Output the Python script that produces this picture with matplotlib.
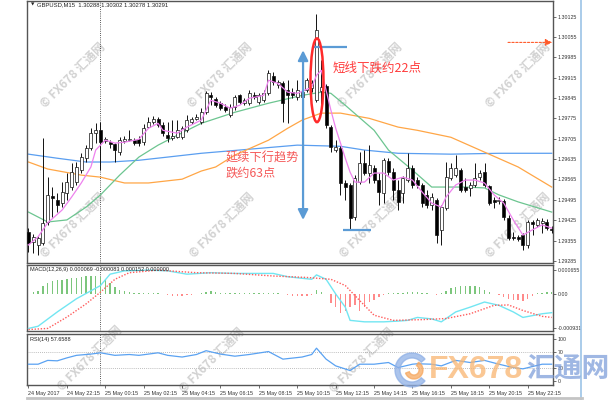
import numpy as np
import matplotlib
matplotlib.use("Agg")
import matplotlib.pyplot as plt
from matplotlib.patches import Ellipse, Wedge
from matplotlib.lines import Line2D

plt.rcParams['font.family'] = ['Liberation Sans', 'Noto Sans CJK SC', 'DejaVu Sans']

# ---------------- data ----------------
symbol_title = "GBPUSD,M15  1.30288 1.30302 1.30278 1.30291"
macd_title = "MACD(12,26,9) 0.000069 -0.000083 0.000152 0.000000"
rsi_title = "RSI(14) 57.6588"

time_tick_bars = [0, 8, 16, 24, 32, 40, 48, 56, 64, 72, 80, 88, 96, 104]
time_tick_labels = ["24 May 2017", "24 May 22:15", "25 May 00:15", "25 May 02:15",
                    "25 May 04:15", "25 May 06:15", "25 May 08:15", "25 May 10:15",
                    "25 May 12:15", "25 May 14:15", "25 May 16:15", "25 May 18:15",
                    "25 May 20:15", "25 May 22:15"]
day_separator_bar = 15

price_ticks = [1.30125, 1.30055, 1.29985, 1.29915, 1.29845, 1.29775, 1.29705,
               1.29635, 1.29565, 1.29495, 1.29425, 1.29355, 1.29285]
price_range = (1.29278, 1.30180)

opens = [1.29385, 1.29350, 1.29340, 1.29347, 1.29419, 1.29508, 1.29494, 1.29484, 1.29518, 1.29539,
         1.29556, 1.29597, 1.29638, 1.29673, 1.29724, 1.29734, 1.29697, 1.29693, 1.29686, 1.29659,
         1.29697, 1.29700, 1.29700, 1.29703, 1.29693, 1.29745, 1.29762, 1.29772, 1.29751, 1.29717,
         1.29707, 1.29710, 1.29710, 1.29734, 1.29762, 1.29772, 1.29762, 1.29796, 1.29854, 1.29841,
         1.29827, 1.29813, 1.29786, 1.29813, 1.29854, 1.29827, 1.29827, 1.29854, 1.29830, 1.29837,
         1.29861, 1.29920, 1.29889, 1.29895, 1.29872, 1.29865, 1.29847, 1.29847, 1.29872, 1.29878,
         1.29837, 1.29868, 1.29885, 1.29745, 1.29666, 1.29673, 1.29553, 1.29546, 1.29436, 1.29556,
         1.29621, 1.29587, 1.29604, 1.29563, 1.29518, 1.29628, 1.29590, 1.29529, 1.29518, 1.29563,
         1.29604, 1.29563, 1.29546, 1.29512, 1.29477, 1.29494, 1.29392, 1.29467, 1.29570, 1.29580,
         1.29597, 1.29539, 1.29536, 1.29546, 1.29573, 1.29590, 1.29542, 1.29494, 1.29491, 1.29491,
         1.29433, 1.29368, 1.29368, 1.29374, 1.29340, 1.29419, 1.29409, 1.29416, 1.29419, 1.29395]
highs = [1.29398, 1.29378, 1.29371, 1.29707, 1.29573, 1.29539, 1.29518, 1.29556, 1.29587, 1.29621,
         1.29625, 1.29655, 1.29683, 1.29741, 1.29758, 1.29762, 1.29710, 1.29700, 1.29690, 1.29710,
         1.29714, 1.29734, 1.29707, 1.29714, 1.29755, 1.29779, 1.29782, 1.29779, 1.29762, 1.29762,
         1.29769, 1.29769, 1.29748, 1.29786, 1.29779, 1.29789, 1.29810, 1.29868, 1.29865, 1.29847,
         1.29834, 1.29823, 1.29823, 1.29854, 1.29858, 1.29844, 1.29872, 1.29865, 1.29861, 1.29872,
         1.29940, 1.29933, 1.29906, 1.29902, 1.29906, 1.29878, 1.29906, 1.29878, 1.29913, 1.29906,
         1.30135, 1.29974, 1.29892, 1.29751, 1.29700, 1.29679, 1.29563, 1.29553, 1.29580, 1.29659,
         1.29666, 1.29683, 1.29614, 1.29587, 1.29638, 1.29638, 1.29604, 1.29563, 1.29577, 1.29655,
         1.29614, 1.29573, 1.29553, 1.29529, 1.29518, 1.29501, 1.29477, 1.29625, 1.29621, 1.29649,
         1.29604, 1.29570, 1.29556, 1.29621, 1.29597, 1.29621, 1.29546, 1.29505, 1.29505, 1.29498,
         1.29443, 1.29385, 1.29374, 1.29381, 1.29426, 1.29426, 1.29433, 1.29433, 1.29429, 1.29405]
lows = [1.29316, 1.29313, 1.29306, 1.29340, 1.29409, 1.29436, 1.29453, 1.29470, 1.29494, 1.29529,
        1.29546, 1.29587, 1.29625, 1.29666, 1.29690, 1.29597, 1.29690, 1.29673, 1.29625, 1.29649,
        1.29690, 1.29697, 1.29683, 1.29679, 1.29683, 1.29741, 1.29755, 1.29745, 1.29714, 1.29693,
        1.29700, 1.29707, 1.29703, 1.29727, 1.29755, 1.29769, 1.29755, 1.29789, 1.29820, 1.29813,
        1.29803, 1.29796, 1.29779, 1.29803, 1.29823, 1.29820, 1.29820, 1.29841, 1.29823, 1.29830,
        1.29854, 1.29889, 1.29878, 1.29762, 1.29758, 1.29844, 1.29837, 1.29844, 1.29865, 1.29865,
        1.29830, 1.29796, 1.29741, 1.29659, 1.29659, 1.29512, 1.29494, 1.29392, 1.29426, 1.29549,
        1.29580, 1.29553, 1.29553, 1.29477, 1.29484, 1.29580, 1.29494, 1.29460, 1.29484, 1.29556,
        1.29536, 1.29536, 1.29470, 1.29467, 1.29460, 1.29347, 1.29340, 1.29460, 1.29563, 1.29573,
        1.29522, 1.29522, 1.29508, 1.29539, 1.29563, 1.29539, 1.29477, 1.29467, 1.29481, 1.29426,
        1.29357, 1.29357, 1.29354, 1.29323, 1.29330, 1.29374, 1.29402, 1.29381, 1.29392, 1.29381]
closes = [1.29347, 1.29368, 1.29364, 1.29416, 1.29512, 1.29501, 1.29477, 1.29522, 1.29556, 1.29590,
          1.29608, 1.29642, 1.29673, 1.29724, 1.29734, 1.29693, 1.29703, 1.29686, 1.29666, 1.29700,
          1.29703, 1.29703, 1.29690, 1.29690, 1.29741, 1.29762, 1.29772, 1.29751, 1.29724, 1.29707,
          1.29714, 1.29734, 1.29741, 1.29769, 1.29772, 1.29779, 1.29796, 1.29861, 1.29847, 1.29820,
          1.29810, 1.29803, 1.29813, 1.29847, 1.29830, 1.29837, 1.29861, 1.29847, 1.29854, 1.29861,
          1.29930, 1.29899, 1.29899, 1.29827, 1.29854, 1.29854, 1.29872, 1.29865, 1.29906, 1.29895,
          1.30077, 1.29882, 1.29751, 1.29676, 1.29676, 1.29553, 1.29539, 1.29433, 1.29570, 1.29621,
          1.29587, 1.29614, 1.29563, 1.29522, 1.29631, 1.29590, 1.29529, 1.29488, 1.29570, 1.29604,
          1.29546, 1.29546, 1.29484, 1.29477, 1.29505, 1.29374, 1.29470, 1.29573, 1.29604, 1.29604,
          1.29529, 1.29529, 1.29546, 1.29570, 1.29587, 1.29546, 1.29484, 1.29488, 1.29494, 1.29436,
          1.29364, 1.29364, 1.29361, 1.29340, 1.29419, 1.29412, 1.29426, 1.29422, 1.29398, 1.29392]

# moving averages (bar index, price)
ma_blue_bars = [0, 6, 12, 17, 23, 29, 36, 46, 56, 65, 70, 77, 88, 98, 109]
ma_blue_vals = [1.29652, 1.29638, 1.29625, 1.29625, 1.29631, 1.29642, 1.29655, 1.29669,
                1.29683, 1.29679, 1.29666, 1.29655, 1.29652, 1.29655, 1.29655]
ma_orange_bars = [0, 4, 11, 15, 20, 25, 32, 36, 39, 43, 50, 54, 57, 61, 65, 71, 77, 81, 88, 95, 102, 109]
ma_orange_vals = [1.29625, 1.29601, 1.29580, 1.29573, 1.29553, 1.29553, 1.29566, 1.29594, 1.29608,
                  1.29649, 1.29700, 1.29741, 1.29769, 1.29793, 1.29793, 1.29775, 1.29745, 1.29734,
                  1.29710, 1.29659, 1.29608, 1.29539]
ma_green_bars = [0, 4, 8, 12, 15, 19, 23, 27, 31, 36, 43, 50, 57, 61, 63, 66, 72, 75, 80, 84,
                 91, 95, 98, 102, 109]
ma_green_vals = [1.29453, 1.29419, 1.29426, 1.29470, 1.29512, 1.29580, 1.29642, 1.29683, 1.29717,
                 1.29758, 1.29796, 1.29827, 1.29854, 1.29865, 1.29861, 1.29820, 1.29734, 1.29666,
                 1.29597, 1.29539, 1.29539, 1.29536, 1.29512, 1.29488, 1.29453]
ma_magenta_bars = [0, 2, 4, 7, 9, 11, 13, 14, 16, 18, 20, 23, 25, 27, 28, 31, 33, 36, 38, 40,
                   42, 44, 46, 49, 50, 52, 54, 56, 59, 60, 61, 62, 63, 64, 65, 66, 67, 68, 70,
                   72, 74, 76, 78, 80, 82, 84, 86, 87, 89, 91, 93, 95, 97, 99, 101, 103, 105,
                   107, 109]
ma_magenta_vals = [1.29340, 1.29368, 1.29416, 1.29460, 1.29505, 1.29553, 1.29608, 1.29666,
                   1.29700, 1.29690, 1.29693, 1.29703, 1.29741, 1.29758, 1.29734, 1.29724,
                   1.29745, 1.29769, 1.29837, 1.29827, 1.29810, 1.29820, 1.29844, 1.29854,
                   1.29906, 1.29895, 1.29865, 1.29861, 1.29882, 1.29923, 1.29940, 1.29872,
                   1.29803, 1.29741, 1.29690, 1.29638, 1.29590, 1.29556, 1.29556, 1.29587,
                   1.29587, 1.29563, 1.29573, 1.29563, 1.29522, 1.29484, 1.29470, 1.29505,
                   1.29546, 1.29563, 1.29563, 1.29553, 1.29512, 1.29484, 1.29426, 1.29374,
                   1.29392, 1.29409, 1.29398]

# MACD panel
macd_hist = [0.0, 0.000035, 0.000081, 0.000215, 0.000277, 0.000331, 0.000368, 0.000384, 0.000395, 0.000422,
             0.000438, 0.000457, 0.000476, 0.000492, 0.000492, 0.000457, 0.000395, 0.000277, 0.000169, 0.000099,
             0.000062, 0.000035, 0.000013, 0.000008, 0.000005, 0.000005, 0.000005, 0.000005, 0.0, -0.000027,
             -0.000054, -0.000067, -0.000054, -0.00004, -0.000027, -0.000013, 0.000013, 0.00004, 0.000067, 0.000054,
             0.000027, 0.000013, 0.000008, 0.000008, 0.000008, 0.000008, 0.000008, 0.000008, 0.000008, 0.000008,
             0.000008, 0.000008, 0.000008, -0.000013, -0.00004, -0.000054, -0.000054, -0.000054, -0.000054, -0.000027,
             0.000089, 0.00004, -0.000013, -0.000269, -0.000376, -0.000538, -0.000484, -0.000376, -0.000323, -0.000484,
             -0.000376, -0.000242, -0.000161, -0.000081, -0.000027, 0.000013, 0.000013, 0.000013, 0.000027, 0.00004,
             0.000054, 0.000054, 0.000027, 0.000013, -0.000013, -0.000027, 0.000013, 0.000081, 0.000161, 0.000188,
             0.000202, 0.000202, 0.000202, 0.000215, 0.000188, 0.000108, 0.00004, 0.0, -0.00004, -0.000081,
             -0.000134, -0.000161, -0.000188, -0.000215, -0.000134, -0.000054, 0.000013, 0.000027, 0.00004, 0.00004]
macd_line_bars = [0, 2, 6, 10, 15, 17, 20, 25, 29, 33, 38, 43, 51, 54, 59, 60, 62, 64, 66, 67,
                  70, 74, 77, 79, 81, 84, 86, 89, 92, 95, 98, 101, 103, 107, 109]
macd_line_vals = [-0.00095, -0.00089, -0.00050, -0.00014, 0.00022, 0.00053, 0.00062, 0.00064,
                  0.00062, 0.00053, 0.00057, 0.00055, 0.00055, 0.00046, 0.00039, 0.00051, 0.00039,
                  -0.00001, -0.00037, -0.00073, -0.00077, -0.00077, -0.00075, -0.00073, -0.00065,
                  -0.00069, -0.00077, -0.00050, -0.00037, -0.00023, -0.00032, -0.00050, -0.00065,
                  -0.00055, -0.00052]
macd_signal_bars = [0, 4, 8, 12, 15, 18, 21, 27, 35, 43, 51, 58, 63, 66, 69, 72, 76, 82, 87,
                    92, 97, 100, 103, 107, 109]
macd_signal_vals = [-0.00098, -0.00095, -0.00064, -0.00028, 0.00004, 0.00039, 0.00057, 0.00064,
                    0.00057, 0.00055, 0.00048, 0.00044, 0.00039, 0.00022, -0.00019, -0.00059,
                    -0.00073, -0.00071, -0.00068, -0.00055, -0.00032, -0.00031, -0.00046,
                    -0.00062, -0.00065]
macd_ticks = [0.000655, 0.0, -0.000931]
macd_tick_labels = ["0.000655", "0.00", "-0.000931"]
macd_range = (-0.00102, 0.00078)

# RSI panel
rsi_bars = [0, 2, 4, 6, 8, 10, 13, 15, 18, 21, 23, 27, 29, 32, 35, 37, 40, 43, 46, 50, 53, 57,
            59, 60, 62, 64, 67, 69, 72, 75, 77, 80, 81, 84, 86, 89, 92, 95, 98, 101, 103, 107, 109]
rsi_vals = [40, 40, 49, 48, 55, 61, 64, 67, 61, 63, 61, 67, 61, 57, 63, 72, 64, 59, 63, 70, 52, 57,
            63, 78, 52, 36, 25, 40, 40, 44, 32, 40, 41, 40, 36, 49, 44, 49, 40, 32, 29, 40, 40]
rsi_levels = [70, 30]
rsi_ticks = [100, 70, 30, 0]
rsi_range = (-9.3, 111.6)

# annotations
arrow_bar, arrow_top, arrow_bottom = 57.2, 1.30009, 1.29426
top_line = (59.5, 66.4, 1.30019)
bottom_line = (65.5, 71.4, 1.29392)
ellipse_center, ellipse_w, ellipse_h = (60.1, 1.29906), 2.7, 0.00288
short_text = "短线下跌约22点"
short_text_pos = (63.4, 1.29947)
trend_text1 = "延续下行趋势"
trend_text2 = "跌约63点"
trend_text_bar, trend_text1_price, trend_text2_price = 41.0, 1.29638, 1.29587
marker_line = (99.9, 109.1, 1.30036)

# ---------------- figure ----------------
W, H = 610, 400
fig = plt.figure(figsize=(6.1, 4.0), dpi=100)
fig.patch.set_facecolor('white')


def box(l, t, r, b):
    return [l / W, 1 - b / H, (r - l) / W, (b - t) / H]


ax = fig.add_axes(box(27, 0.5, 553, 263))
axm = fig.add_axes(box(27, 265, 553, 331))
axr = fig.add_axes(box(27, 334, 553, 385))

XL = (-0.31, 109.27)
for a in (ax, axm, axr):
    a.set_facecolor('none')
    a.set_xlim(*XL)
    for s in a.spines.values():
        s.set_color('#555555')
        s.set_linewidth(1.0)
    a.tick_params(axis='y', left=False, labelleft=False, right=True, labelright=True,
                  length=2.2, width=0.5, pad=1.2, labelsize=3.8, colors='#333333')
    a.tick_params(axis='x', bottom=False, labelbottom=False)
    a.axvline(day_separator_bar, color='#222222', lw=0.6, ls=(0, (1, 1.6)), zorder=1)

# ---- main price panel ----
ax.set_ylim(*price_range)
ax.set_yticks(price_ticks)
ax.set_yticklabels([f"{p:.5f}" for p in price_ticks])

idx = np.arange(len(closes))
o = np.array(opens); c = np.array(closes); hi = np.array(highs); lo = np.array(lows)
ax.vlines(idx, lo, hi, color='#111111', lw=0.7, zorder=3)
bottoms = np.minimum(o, c)
heights = np.maximum(np.abs(c - o), 0.000012)
faces = ['white' if cc >= oo else 'black' for oo, cc in zip(o, c)]
ax.bar(idx, heights, bottom=bottoms, width=0.62, color=faces, edgecolor='#111111',
       linewidth=0.5, zorder=4)

ax.plot(ma_blue_bars, ma_blue_vals, color='#5a9ef0', lw=0.9, zorder=2)
ax.plot(ma_orange_bars, ma_orange_vals, color='#ffa646', lw=0.9, zorder=2)
ax.plot(ma_green_bars, ma_green_vals, color='#6cc590', lw=0.9, zorder=2)
ax.plot(ma_magenta_bars, ma_magenta_vals, color='#ee82ee', lw=0.9, zorder=5)

blue_ann = '#5b9bd5'
ax.annotate('', xy=(arrow_bar, arrow_top), xytext=(arrow_bar, arrow_bottom),
            arrowprops=dict(arrowstyle='<|-|>,head_length=0.6,head_width=0.3',
                            color=blue_ann, lw=1.6, shrinkA=0, shrinkB=0), zorder=6)
ax.hlines(top_line[2], top_line[0], top_line[1], color=blue_ann, lw=1.6, zorder=6)
ax.hlines(bottom_line[2], bottom_line[0], bottom_line[1], color=blue_ann, lw=1.6, zorder=6)
ax.add_patch(Ellipse(ellipse_center, ellipse_w, ellipse_h, fill=False, ec='#ff2a2a', lw=1.8, zorder=7))
ax.text(short_text_pos[0], short_text_pos[1], short_text, color='#ff3c3c', fontsize=9,
        family=['Noto Sans CJK SC', 'DejaVu Sans'], va='center', ha='left', zorder=7)
ax.text(trend_text_bar, trend_text1_price, trend_text1, color='#f55a5a', fontsize=8.8,
        family=['Noto Sans CJK SC', 'DejaVu Sans'], va='center', ha='left', zorder=7)
ax.text(trend_text_bar, trend_text2_price, trend_text2, color='#f55a5a', fontsize=8.8,
        family=['Noto Sans CJK SC', 'DejaVu Sans'], va='center', ha='left', zorder=7)
ax.annotate('', xy=(marker_line[1], marker_line[2]), xytext=(marker_line[0], marker_line[2]),
            arrowprops=dict(arrowstyle='-|>,head_length=0.4,head_width=0.2', color='#ff5a2a',
                            lw=0.8, ls=(0, (2, 1.5)), shrinkA=0, shrinkB=0), zorder=6)

# ---- MACD panel ----
axm.set_ylim(*macd_range)
axm.set_yticks(macd_ticks)
axm.set_yticklabels(macd_tick_labels)
hcol = ['#7cc67c' if v >= 0 else '#ff8a8a' for v in macd_hist]
axm.bar(idx, macd_hist, width=0.3, color=hcol, zorder=2)
axm.plot(macd_line_bars, macd_line_vals, color='#72e6f2', lw=1.0, zorder=3)
axm.plot(macd_signal_bars, macd_signal_vals, color='#ff5c5c', lw=1.0, ls=(0, (1, 1.2)), zorder=3)

# ---- RSI panel ----
axr.set_ylim(*rsi_range)
axr.set_yticks(rsi_ticks)
axr.set_yticklabels([str(v) for v in rsi_ticks])
for lv in rsi_levels:
    axr.axhline(lv, color='#a8a8a8', lw=0.6, ls=(0, (1, 1.5)), zorder=1)
axr.plot(rsi_bars, rsi_vals, color='#5aa2f2', lw=0.9, zorder=3)
axr.tick_params(axis='x', bottom=True, labelbottom=True, length=2.5, width=0.5,
                pad=1.5, labelsize=3.9, colors='#333333')
axr.set_xticks(time_tick_bars)
axr.set_xticklabels(time_tick_labels)
for lab in axr.get_xticklabels():
    lab.set_ha('left')

# ---- titles ----
fig.text(31 / W, 1 - 5 / H, '▼', fontsize=3.2, family='DejaVu Sans', va='center', color='#222222')
fig.text(37 / W, 1 - 5 / H, symbol_title, fontsize=4.2, va='center', color='#222222')
fig.text(30 / W, 1 - 270 / H, macd_title, fontsize=4.0, va='center', color='#222222')
fig.text(30 / W, 1 - 339 / H, rsi_title, fontsize=4.0, va='center', color='#222222')

# ---- watermarks ----
wm_centers = [(73, 75), (220, 75), (370, 75), (518, 75),
              (73, 225), (222, 225), (372, 225), (518, 225),
              (90, 358), (212, 360), (362, 360)]
for (px, py) in wm_centers:
    fig.text(px / W, 1 - py / H, "© FX678 汇通网", rotation=45, fontsize=8.5,
             fontweight='bold', color='#d2d2d2', ha='center', va='center',
             family=['Noto Sans CJK SC', 'DejaVu Sans'], zorder=-1)

# ---- logo bottom right ----
fig.add_artist(Wedge((4.12, 0.30), 0.17, 40, 320, width=0.05, transform=fig.dpi_scale_trans,
                     color='#8fb0e6', alpha=0.75, zorder=8))
fig.add_artist(Wedge((4.14, 0.30), 0.09, 200, 60, width=0.04, transform=fig.dpi_scale_trans,
                     color='#f6a860', alpha=0.75, zorder=8))
fig.text(429 / W, 1 - 370 / H, "FX678", fontsize=23, fontweight='bold', color='#f9b570',
         alpha=0.75, va='center', ha='left', zorder=8, family='Liberation Sans')
fig.text(526 / W, 1 - 370 / H, "汇通网", fontsize=20, fontweight='bold', color='#7f9fda',
         alpha=0.75, va='center', ha='left', zorder=8, family=['Noto Sans CJK SC', 'DejaVu Sans'])

# ---- window frame bits ----
fig.add_artist(Line2D([581 / W, 581 / W], [0, 1], transform=fig.transFigure,
                      color='#9cc3e6', lw=1.2))
fig.add_artist(Line2D([27 / W, 582 / W], [1 - 398 / H, 1 - 398 / H], transform=fig.transFigure,
                      color='#c4c4c4', lw=2))

fig.savefig('out.png', dpi=100, facecolor='white')
